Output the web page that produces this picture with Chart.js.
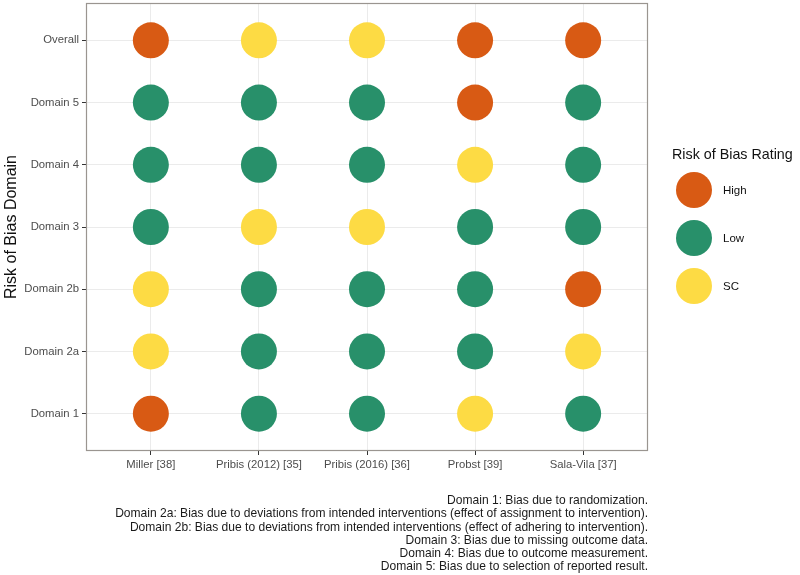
<!DOCTYPE html>
<html><head><meta charset="utf-8">
<script src="https://cdn.jsdelivr.net/npm/chart.js@4.4.1/dist/chart.umd.min.js"></script>
<style>
html,body{margin:0;padding:0;background:#fff;}
#wrap{position:relative;width:800px;height:575px;}
#caption{position:absolute;right:152px;top:494px;text-align:right;font-family:"Liberation Sans",Arial,sans-serif;font-size:12.05px;line-height:13.3px;color:#1a1a1a;white-space:nowrap;}
</style></head>
<body><div id="wrap"><canvas id="c" width="800" height="575"></canvas>
<div id="caption"></div></div>
<script>
const studies = ['Miller [38]','Pribis (2012) [35]','Pribis (2016) [36]','Probst [39]','Sala-Vila [37]'];
const domains = ['Overall','Domain 5','Domain 4','Domain 3','Domain 2b','Domain 2a','Domain 1'];
const ratingLevels = ['High','Low','SC'];
// ratings per study, in domain order above (Overall ... Domain 1)
const millerRatings    = ['High','Low','Low','Low','SC','SC','High'];
const pribis2012Ratings= ['SC','Low','Low','SC','Low','Low','Low'];
const pribis2016Ratings= ['SC','Low','Low','SC','Low','Low','Low'];
const probstRatings    = ['High','High','SC','Low','Low','Low','SC'];
const salaVilaRatings  = ['High','Low','Low','Low','High','SC','Low'];
const captionLines = [
 'Domain 1: Bias due to randomization.',
 'Domain 2a: Bias due to deviations from intended interventions (effect of assignment to intervention).',
 'Domain 2b: Bias due to deviations from intended interventions (effect of adhering to intervention).',
 'Domain 3: Bias due to missing outcome data.',
 'Domain 4: Bias due to outcome measurement.',
 'Domain 5: Bias due to selection of reported result.'
];
const colors = {High:'#D85A14', Low:'#28906A', SC:'#FDDB44'};

document.getElementById('caption').innerHTML = captionLines.map(s=>'<div>'+s+'</div>').join('');

const allRatings = [millerRatings,pribis2012Ratings,pribis2016Ratings,probstRatings,salaVilaRatings];
const datasets = ratingLevels.map(lv=>{
  const pts=[];
  allRatings.forEach((arr,si)=>arr.forEach((r,di)=>{ if(r===lv) pts.push({x:si,y:di}); }));
  return {label:lv,data:pts,backgroundColor:colors[lv],borderWidth:0,pointRadius:18,pointHoverRadius:18};
});

const FONT='"Liberation Sans", Arial, sans-serif';
const legendPlugin = {
  id:'customLegend',
  afterDraw(chart){
    const ctx=chart.ctx;
    ctx.save();
    ctx.fillStyle='#111';
    ctx.font='14.3px '+FONT;
    ctx.textBaseline='middle';
    ctx.textAlign='left';
    ctx.fillText('Risk of Bias Rating',672,155);
    ratingLevels.forEach((lv,i)=>{
      const cy=190+i*48;
      ctx.beginPath();
      ctx.arc(694,cy,18,0,Math.PI*2);
      ctx.fillStyle=colors[lv];
      ctx.fill();
      ctx.fillStyle='#111';
      ctx.font='11.5px '+FONT;
      ctx.fillText(lv,723,cy+1);
    });
    ctx.restore();
  }
};
const borderPlugin = {
  id:'panelBorder',
  afterDatasetsDraw(chart){
    const a=chart.chartArea, ctx=chart.ctx;
    ctx.save(); ctx.strokeStyle='#9a9590'; ctx.lineWidth=1.2;
    ctx.strokeRect(a.left+0.5,a.top+0.5,a.right-a.left-1,a.bottom-a.top-1);
    ctx.restore();
  }
};

new Chart(document.getElementById('c'),{
  type:'scatter',
  data:{datasets},
  options:{
    responsive:false,animation:false,
    layout:{autoPadding:false,padding:{left:0,top:3,right:152,bottom:94}},
    plugins:{legend:{display:false},tooltip:{enabled:false}},
    scales:{
      x:{type:'linear',min:-0.6,max:studies.length-0.4,
        afterBuildTicks(s){s.ticks=studies.map((_,i)=>({value:i}));},
        afterFit(s){s.height=30;s.paddingLeft=0;s.paddingRight=0;},
        grid:{color:'#ebebeb',lineWidth:1,drawTicks:true,tickLength:4,tickColor:'#333',tickWidth:1},
        border:{display:false},
        ticks:{callback:(v)=>studies[v],color:'#4d4d4d',font:{family:FONT,size:11.3},padding:3,maxRotation:0,autoSkip:false}
      },
      y:{type:'linear',reverse:true,min:-0.6,max:domains.length-0.4,
        afterBuildTicks(s){s.ticks=domains.map((_,i)=>({value:i}));},
        afterFit(s){s.width=86;s.paddingTop=0;s.paddingBottom=0;},
        grid:{color:'#ebebeb',lineWidth:1,drawTicks:true,tickLength:4,tickColor:'#333',tickWidth:1},
        border:{display:false},
        ticks:{callback:(v)=>domains[v],color:'#4d4d4d',font:{family:FONT,size:11.3},padding:3,autoSkip:false},
        title:{display:true,text:'Risk of Bias Domain',color:'#111',font:{family:FONT,size:16},padding:{top:2,bottom:0}}
      }
    }
  },
  plugins:[legendPlugin,borderPlugin]
});
</script></body></html>
